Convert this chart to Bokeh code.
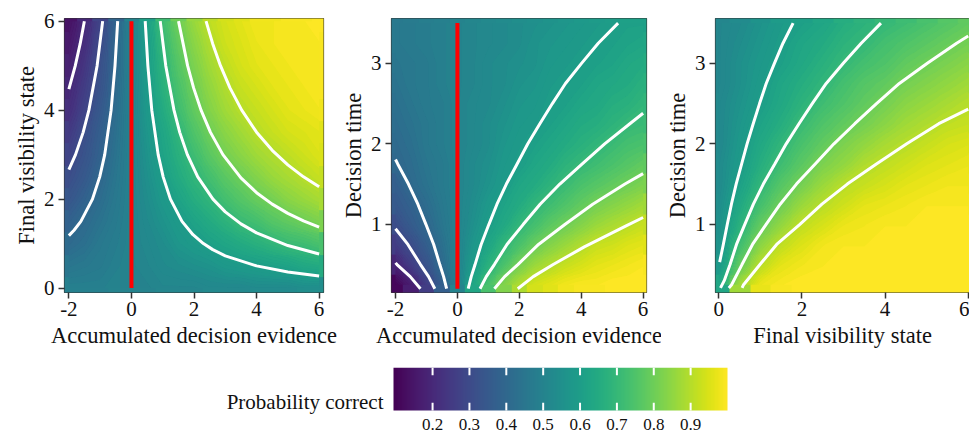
import numpy as np
from bokeh.plotting import figure
from bokeh.layouts import row, column
from bokeh.models import Range1d, LinearColorMapper, FixedTicker
from bokeh.core.properties import value
from bokeh.palettes import Viridis256
from bokeh.embed import file_html
from bokeh.resources import INLINE

# ---------------- data ----------------
# Panel 1: probability correct over accumulated evidence (x) and final visibility (y)
p1_evidence = [-2.0, -1.5, -1.0, -0.5, 0.0, 0.5, 1.0, 1.5, 2.0, 2.5, 3.0, 3.5, 4.0, 4.5, 5.0, 5.5, 6.0]
p1_visibility = [0.0, 0.5, 1.0, 1.5, 2.0, 2.5, 3.0, 3.5, 4.0, 4.5, 5.0, 5.5, 6.0]
p1_prob = [
    [0.49, 0.49, 0.49, 0.50, 0.50, 0.50, 0.51, 0.51, 0.51, 0.52, 0.52, 0.52, 0.53, 0.53, 0.53, 0.54, 0.54],
    [0.45, 0.46, 0.47, 0.49, 0.50, 0.51, 0.53, 0.54, 0.55, 0.56, 0.58, 0.59, 0.60, 0.61, 0.62, 0.64, 0.65],
    [0.41, 0.43, 0.46, 0.48, 0.50, 0.52, 0.54, 0.57, 0.59, 0.61, 0.63, 0.65, 0.67, 0.69, 0.71, 0.72, 0.74],
    [0.38, 0.41, 0.44, 0.47, 0.50, 0.53, 0.56, 0.59, 0.62, 0.65, 0.68, 0.71, 0.73, 0.76, 0.78, 0.80, 0.82],
    [0.34, 0.38, 0.42, 0.46, 0.50, 0.54, 0.58, 0.62, 0.66, 0.69, 0.73, 0.76, 0.79, 0.81, 0.84, 0.86, 0.88],
    [0.31, 0.35, 0.40, 0.45, 0.50, 0.55, 0.60, 0.65, 0.69, 0.73, 0.77, 0.80, 0.83, 0.86, 0.88, 0.90, 0.92],
    [0.28, 0.33, 0.38, 0.44, 0.50, 0.56, 0.62, 0.67, 0.72, 0.77, 0.81, 0.84, 0.87, 0.89, 0.91, 0.93, 0.95],
    [0.25, 0.31, 0.37, 0.43, 0.50, 0.57, 0.63, 0.69, 0.75, 0.80, 0.84, 0.87, 0.90, 0.92, 0.94, 0.95, 0.96],
    [0.22, 0.28, 0.35, 0.42, 0.50, 0.58, 0.65, 0.72, 0.78, 0.83, 0.87, 0.90, 0.92, 0.94, 0.96, 0.97, 0.98],
    [0.20, 0.26, 0.33, 0.41, 0.50, 0.59, 0.67, 0.74, 0.80, 0.85, 0.89, 0.92, 0.94, 0.96, 0.97, 0.98, 0.99],
    [0.18, 0.24, 0.32, 0.40, 0.50, 0.60, 0.68, 0.76, 0.82, 0.87, 0.91, 0.94, 0.96, 0.97, 0.98, 0.99, 0.99],
    [0.16, 0.22, 0.30, 0.40, 0.50, 0.60, 0.70, 0.78, 0.84, 0.89, 0.93, 0.95, 0.97, 0.98, 0.99, 0.99, 0.99],
    [0.14, 0.20, 0.28, 0.39, 0.50, 0.61, 0.72, 0.80, 0.86, 0.91, 0.94, 0.96, 0.98, 0.98, 0.99, 0.99, 1.00],
]
# iso-probability curves (levels 0.2, 0.3, 0.4, 0.6, 0.7, 0.8, 0.9)
p1_iso_x = [
    [-1.505, -1.637, -1.795, -2.0],
    [-0.920, -1.097, -1.360, -1.544, -1.787, -2.0],
    [-0.440, -0.525, -0.650, -0.854, -1.014, -1.246, -1.617, -1.835, -2.0],
    [0.440, 0.525, 0.650, 0.854, 1.014, 1.246, 1.617, 1.968, 2.301, 2.6, 3.0, 4.0, 5.0, 6.0],
    [0.920, 1.097, 1.360, 1.544, 1.787, 2.120, 2.606, 3.0, 3.5, 4.0, 5.0, 6.0],
    [1.505, 1.795, 1.987, 2.225, 2.527, 2.924, 3.5, 4.0, 4.5, 5.0, 5.5, 6.0],
    [2.385, 2.595, 2.846, 3.150, 3.526, 4.0, 4.5, 5.0, 5.5, 6.0],
]
p1_iso_y = [
    [6.0, 5.5, 5.0, 4.47],
    [6.0, 5.0, 4.0, 3.5, 3.0, 2.661],
    [6.0, 5.0, 4.0, 3.0, 2.5, 2.0, 1.5, 1.3, 1.178],
    [6.0, 5.0, 4.0, 3.0, 2.5, 2.0, 1.5, 1.2, 1.0, 0.864, 0.725, 0.498, 0.362, 0.272],
    [6.0, 5.0, 4.0, 3.5, 3.0, 2.5, 2.0, 1.713, 1.443, 1.240, 0.956, 0.766],
    [6.0, 5.0, 4.5, 4.0, 3.5, 3.0, 2.477, 2.144, 1.886, 1.679, 1.510, 1.369],
    [6.0, 5.5, 5.0, 4.5, 4.0, 3.505, 3.096, 2.768, 2.5, 2.276],
]
p1_boundary_span = [0.0, 6.0]   # red zero-evidence line, bottom and top

# Panel 2: probability correct over accumulated evidence (x) and decision time (y)
p2_evidence = [-2.0, -1.5, -1.0, -0.5, 0.0, 0.5, 1.0, 1.5, 2.0, 2.5, 3.0, 3.5, 4.0, 4.5, 5.0, 5.5, 6.0]
p2_time = [0.25, 0.5, 0.75, 1.0, 1.25, 1.5, 1.75, 2.0, 2.25, 2.5, 2.75, 3.0, 3.25, 3.5]
p2_prob = [
    [0.11, 0.17, 0.26, 0.37, 0.50, 0.63, 0.74, 0.83, 0.89, 0.94, 0.96, 0.98, 0.99, 0.99, 1.00, 1.00, 1.00],
    [0.19, 0.26, 0.33, 0.41, 0.50, 0.59, 0.67, 0.74, 0.81, 0.86, 0.89, 0.92, 0.94, 0.96, 0.97, 0.98, 0.99],
    [0.26, 0.31, 0.37, 0.43, 0.50, 0.57, 0.63, 0.69, 0.74, 0.79, 0.83, 0.86, 0.89, 0.92, 0.93, 0.95, 0.96],
    [0.31, 0.36, 0.40, 0.45, 0.50, 0.55, 0.60, 0.64, 0.69, 0.73, 0.77, 0.80, 0.83, 0.86, 0.88, 0.90, 0.92],
    [0.35, 0.38, 0.42, 0.46, 0.50, 0.54, 0.58, 0.62, 0.65, 0.69, 0.72, 0.75, 0.78, 0.81, 0.83, 0.85, 0.87],
    [0.37, 0.41, 0.44, 0.47, 0.50, 0.53, 0.56, 0.59, 0.63, 0.65, 0.68, 0.71, 0.74, 0.76, 0.78, 0.80, 0.82],
    [0.40, 0.42, 0.45, 0.47, 0.50, 0.53, 0.55, 0.58, 0.60, 0.63, 0.65, 0.68, 0.70, 0.72, 0.74, 0.76, 0.78],
    [0.41, 0.43, 0.46, 0.48, 0.50, 0.52, 0.54, 0.57, 0.59, 0.61, 0.63, 0.65, 0.67, 0.69, 0.71, 0.73, 0.74],
    [0.42, 0.44, 0.46, 0.48, 0.50, 0.52, 0.54, 0.56, 0.58, 0.59, 0.61, 0.63, 0.65, 0.66, 0.68, 0.70, 0.71],
    [0.43, 0.45, 0.47, 0.48, 0.50, 0.52, 0.53, 0.55, 0.57, 0.58, 0.60, 0.61, 0.63, 0.64, 0.66, 0.67, 0.69],
    [0.44, 0.46, 0.47, 0.49, 0.50, 0.51, 0.53, 0.54, 0.56, 0.57, 0.59, 0.60, 0.61, 0.63, 0.64, 0.65, 0.67],
    [0.45, 0.46, 0.47, 0.49, 0.50, 0.51, 0.53, 0.54, 0.55, 0.56, 0.58, 0.59, 0.60, 0.61, 0.62, 0.64, 0.65],
    [0.46, 0.47, 0.48, 0.49, 0.50, 0.51, 0.52, 0.53, 0.54, 0.56, 0.57, 0.58, 0.59, 0.60, 0.61, 0.62, 0.63],
    [0.46, 0.47, 0.48, 0.49, 0.50, 0.51, 0.52, 0.53, 0.54, 0.55, 0.56, 0.57, 0.58, 0.59, 0.60, 0.61, 0.61],
]
p2_iso_x = [
    [-1.195, -1.525, -1.952, -2.0],
    [-0.730, -0.932, -1.193, -1.601, -2.0],
    [-0.349, -0.446, -0.570, -0.766, -1.018, -1.278, -1.582, -1.929, -2.0],
    [0.349, 0.446, 0.570, 0.766, 1.018, 1.278, 1.582, 1.929, 2.275, 2.664, 3.068, 3.491, 4.010, 4.551, 5.192],
    [0.730, 0.932, 1.193, 1.601, 2.128, 2.672, 3.309, 4.033, 4.758, 5.572, 6.0],
    [1.195, 1.525, 1.952, 2.620, 3.482, 4.372, 5.414, 6.0],
    [1.950, 2.450, 3.094, 4.100, 5.450, 6.0],
]
p2_iso_y = [
    [0.2, 0.35, 0.5, 0.521],
    [0.2, 0.35, 0.5, 0.75, 0.945],
    [0.2, 0.35, 0.5, 0.75, 1.0, 1.25, 1.5, 1.75, 1.805],
    [0.2, 0.35, 0.5, 0.75, 1.0, 1.25, 1.5, 1.75, 2.0, 2.25, 2.5, 2.75, 3.0, 3.25, 3.5],
    [0.2, 0.35, 0.5, 0.75, 1.0, 1.25, 1.5, 1.75, 2.0, 2.25, 2.38],
    [0.2, 0.35, 0.5, 0.75, 1.0, 1.25, 1.5, 1.63],
    [0.2, 0.35, 0.5, 0.72, 0.98, 1.085],
]
p2_boundary_span = [0.2, 3.5]

# Panel 3: probability correct over final visibility (x) and decision time (y)
p3_visibility = [0.0, 0.5, 1.0, 1.5, 2.0, 2.5, 3.0, 3.5, 4.0, 4.5, 5.0, 5.5, 6.0]
p3_time = [0.25, 0.5, 0.75, 1.0, 1.25, 1.5, 1.75, 2.0, 2.25, 2.5, 2.75, 3.0, 3.25, 3.5]
p3_prob = [
    [0.63, 0.87, 0.97, 0.99, 1.00, 1.00, 1.00, 1.00, 1.00, 1.00, 1.00, 1.00, 1.00],
    [0.58, 0.78, 0.90, 0.96, 0.98, 0.99, 1.00, 1.00, 1.00, 1.00, 1.00, 1.00, 1.00],
    [0.56, 0.72, 0.84, 0.91, 0.95, 0.98, 0.99, 0.99, 1.00, 1.00, 1.00, 1.00, 1.00],
    [0.55, 0.67, 0.78, 0.85, 0.91, 0.94, 0.97, 0.98, 0.99, 0.99, 1.00, 1.00, 1.00],
    [0.54, 0.64, 0.73, 0.80, 0.86, 0.90, 0.93, 0.96, 0.97, 0.98, 0.99, 0.99, 0.99],
    [0.53, 0.61, 0.69, 0.76, 0.81, 0.86, 0.90, 0.92, 0.94, 0.96, 0.97, 0.98, 0.98],
    [0.53, 0.59, 0.66, 0.72, 0.77, 0.82, 0.85, 0.89, 0.91, 0.93, 0.95, 0.96, 0.97],
    [0.52, 0.58, 0.64, 0.69, 0.74, 0.78, 0.82, 0.85, 0.88, 0.90, 0.92, 0.94, 0.95],
    [0.52, 0.57, 0.62, 0.66, 0.71, 0.75, 0.78, 0.81, 0.84, 0.87, 0.89, 0.91, 0.92],
    [0.52, 0.56, 0.60, 0.64, 0.68, 0.72, 0.75, 0.78, 0.81, 0.84, 0.86, 0.88, 0.90],
    [0.51, 0.55, 0.59, 0.63, 0.66, 0.69, 0.73, 0.76, 0.78, 0.81, 0.83, 0.85, 0.87],
    [0.51, 0.55, 0.58, 0.61, 0.64, 0.67, 0.70, 0.73, 0.75, 0.78, 0.80, 0.82, 0.84],
    [0.51, 0.54, 0.57, 0.60, 0.63, 0.65, 0.68, 0.70, 0.73, 0.75, 0.77, 0.79, 0.81],
    [0.51, 0.53, 0.56, 0.59, 0.61, 0.63, 0.66, 0.68, 0.70, 0.72, 0.74, 0.76, 0.78],
]
p3_iso_x = [
    [0.02, 0.108, 0.204, 0.303, 0.417, 0.549, 0.680, 0.827, 0.980, 1.140, 1.337, 1.543, 1.787],
    [0.04, 0.13, 0.270, 0.425, 0.625, 0.831, 1.070, 1.346, 1.621, 1.928, 2.247, 2.583, 2.993, 3.425, 3.90],
    [0.24, 0.308, 0.557, 0.810, 1.138, 1.476, 1.867, 2.318, 2.769, 3.271, 3.793, 4.342, 5.015, 5.720, 6.0],
    [0.56, 0.595, 0.990, 1.391, 1.950, 2.480, 3.090, 3.790, 4.520, 5.291, 6.0],
]
p3_iso_y = [
    [0.53, 0.75, 1.0, 1.25, 1.5, 1.75, 2.0, 2.25, 2.5, 2.75, 3.0, 3.25, 3.5],
    [0.21, 0.3, 0.5, 0.75, 1.0, 1.25, 1.5, 1.75, 2.0, 2.25, 2.5, 2.75, 3.0, 3.25, 3.5],
    [0.21, 0.25, 0.5, 0.75, 1.0, 1.25, 1.5, 1.75, 2.0, 2.25, 2.5, 2.75, 3.0, 3.25, 3.34],
    [0.21, 0.25, 0.5, 0.75, 1.0, 1.25, 1.5, 1.75, 2.0, 2.25, 2.43],
]

decision_boundary = 0.0
color_low, color_high = 0.094, 1.0
colorbar_ticks = [0.2, 0.3, 0.4, 0.5, 0.6, 0.7, 0.8, 0.9]
colorbar_title = "Probability correct"

FONT = "Liberation Serif"
mapper = LinearColorMapper(palette=Viridis256, low=color_low, high=color_high)
# colour resolution of the shaded surface (style, not data)
shade_levels = np.linspace(color_low, color_high + 0.001, 92)


def make_panel(xv, yv, zv, iso_x, iso_y, span, xr, yr, xticks, yticks, xlabel, ylabel,
               width, border_left, border_right):
    p = figure(width=width, height=354, x_range=Range1d(*xr), y_range=Range1d(*yr),
               output_backend="svg", toolbar_location=None,
               min_border_left=border_left, min_border_right=border_right,
               min_border_top=18, min_border_bottom=62)
    z = np.array(zv, dtype=float)
    dx = xv[1] - xv[0]
    dy = yv[1] - yv[0]
    # raster backdrop (fills the half-cell margins), then smooth shaded surface
    p.image(image=[z], x=xv[0] - dx / 2, y=yv[0] - dy / 2,
            dw=xv[-1] - xv[0] + dx, dh=yv[-1] - yv[0] + dy, color_mapper=mapper)
    p.contour(x=np.array(xv), y=np.array(yv), z=z, levels=shade_levels,
              fill_color=Viridis256, line_color=None)
    p.multi_line(xs=iso_x, ys=iso_y, line_color="white", line_width=3)
    if span is not None:
        p.segment(x0=[decision_boundary], y0=[span[0]], x1=[decision_boundary], y1=[span[1]],
                  line_color="#ff0000", line_width=4)
    p.grid.visible = False
    p.outline_line_color = "#333333"
    p.outline_line_width = 1.2
    p.background_fill_color = "white"
    p.border_fill_color = "white"
    p.xaxis.ticker = FixedTicker(ticks=xticks)
    p.yaxis.ticker = FixedTicker(ticks=yticks)
    p.xaxis.major_label_overrides = {t: str(t) for t in xticks}
    p.yaxis.major_label_overrides = {t: str(t) for t in yticks}
    p.xaxis.axis_label = xlabel
    p.yaxis.axis_label = ylabel
    for ax in (p.xaxis, p.yaxis):
        ax.axis_line_color = None
        ax.major_tick_line_color = "#333333"
        ax.major_tick_line_width = 1.5
        ax.major_tick_out = 6
        ax.major_tick_in = 0
        ax.minor_tick_line_color = None
        ax.major_label_text_font = FONT
        ax.major_label_text_font_size = "21px"
        ax.major_label_text_color = "#111111"
        ax.axis_label_text_font = FONT
        ax.axis_label_text_font_size = "22.5px"
        ax.axis_label_text_font_style = "normal"
        ax.axis_label_text_color = "#111111"
    p.xaxis.axis_label_standoff = 4
    p.yaxis.axis_label_standoff = 2
    p.xaxis.major_label_standoff = 3
    p.yaxis.major_label_standoff = 4
    p.yaxis.major_label_orientation = "horizontal"
    return p


f1 = make_panel(p1_evidence, p1_visibility, p1_prob, p1_iso_x, p1_iso_y, p1_boundary_span,
                (-2.14, 6.14), (-0.1, 6.06), [-2, 0, 2, 4, 6], [0, 2, 4, 6],
                "Accumulated decision evidence", "Final visibility state",
                337, 64, 14)
f2 = make_panel(p2_evidence, p2_time, p2_prob, p2_iso_x, p2_iso_y, p2_boundary_span,
                (-2.13, 6.11), (0.153, 3.557), [-2, 0, 2, 4, 6], [1, 2, 3],
                "Accumulated decision evidence", "Decision time",
                324, 52, 15)
f3 = make_panel(p3_visibility, p3_time, p3_prob, p3_iso_x, p3_iso_y, None,
                (-0.08, 6.03), (0.153, 3.557), [0, 2, 4, 6], [1, 2, 3],
                "Final visibility state", "Decision time",
                308, 53, 0)

# ---------------- colour bar ----------------
CB_W, BAR_L, BAR_R = 969, 393, 727
per_px = (color_high - color_low) / (BAR_R - BAR_L)
cb = figure(width=CB_W, height=84,
            x_range=Range1d(color_low - BAR_L * per_px, color_high + (CB_W - BAR_R) * per_px),
            y_range=Range1d(-6 / 43, 1.0),
            output_backend="svg", toolbar_location=None,
            min_border_left=0, min_border_right=0, min_border_top=13, min_border_bottom=22)
ramp = np.linspace(color_low, color_high, 256)[None, :]
cb.image(image=[ramp], x=color_low, y=0, dw=color_high - color_low, dh=1, color_mapper=mapper)
cb.segment(x0=colorbar_ticks, y0=0, x1=colorbar_ticks, y1=0.18, line_color="white", line_width=2)
cb.segment(x0=colorbar_ticks, y0=0.82, x1=colorbar_ticks, y1=1.0, line_color="white", line_width=2)
cb.text(x=[color_low], y=[0.2], text=[colorbar_title], x_offset=-10,
        text_align="right", text_baseline="middle",
        text_font=value(FONT), text_font_size="21px", text_color="#111111")
cb.grid.visible = False
cb.outline_line_color = None
cb.yaxis.visible = False
cb.xaxis.ticker = FixedTicker(ticks=colorbar_ticks)
cb.xaxis.axis_line_color = None
cb.xaxis.major_tick_line_color = None
cb.xaxis.minor_tick_line_color = None
cb.xaxis.major_tick_out = 0
cb.xaxis.major_label_standoff = 2
cb.xaxis.major_label_text_font = FONT
cb.xaxis.major_label_text_font_size = "17px"
cb.xaxis.major_label_text_color = "#111111"

layout = column(row(f1, f2, f3), cb)
open("out.html", "w").write(file_html(layout, INLINE))
